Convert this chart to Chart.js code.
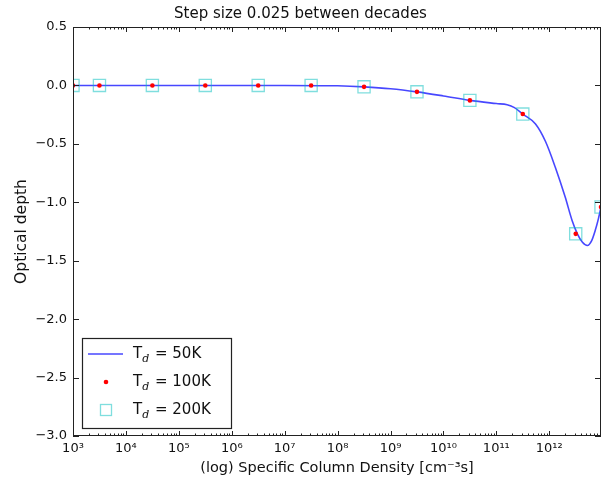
<!DOCTYPE html>
<html>
<head>
<meta charset="utf-8">
<script src="https://cdn.jsdelivr.net/npm/chart.js@4.4.1/dist/chart.umd.min.js"></script>
<style>
  body { margin: 0; background: #fff; }
  canvas { display: block; }
</style>
</head>
<body>
<canvas id="depthChart" width="605" height="485"></canvas>
<script>
// T_d = 50K, drawn as a smooth line
var curveX = [1e3, 1e4, 1e5, 1e6, 1e7, 1e8, 3.16e8, 1e9, 3.16e9, 1e10, 3.16e10,
              1e11, 1.6e11, 2.2e11, 3.16e11, 5.5e11, 8.5e11, 1.3e12, 2e12, 2.7e12,
              3.4e12, 4.2e12, 5.25e12, 6.3e12, 7.4e12, 8.5e12, 9.5e12];
var curveY = [0, 0, 0, 0, 0, -0.003, -0.012, -0.028, -0.055, -0.09, -0.128,
              -0.155, -0.165, -0.19, -0.245, -0.33, -0.48, -0.70, -0.955, -1.155,
              -1.27, -1.34, -1.37, -1.33, -1.24, -1.14, -1.04];

// T_d = 100K (dots) and T_d = 200K (squares), same sample columns
var sampleX = [1e3, 3162, 31623, 316228, 3162278, 31622777, 316227766,
               3.162e9, 3.162e10, 3.162e11, 3.162e12, 9.5e12];
var depth100 = [0, 0, 0, 0, 0, 0, -0.012, -0.055, -0.128, -0.245, -1.27, -1.04];
var depth200 = [0, 0, 0, 0, 0, 0, -0.012, -0.055, -0.128, -0.245, -1.27, -1.04];

var legendTemps = ['50K', '100K', '200K'];

// x axis decade labels
var xTickValues = [1e3, 1e4, 1e5, 1e6, 1e7, 1e8, 1e9, 1e10, 1e11, 1e12];
var xTickLabels = ['10\u00b3', '10\u2074', '10\u2075', '10\u2076', '10\u2077', '10\u2078',
                   '10\u2079', '10\u00b9\u2070', '10\u00b9\u00b9', '10\u00b9\u00b2'];

function toPoints(xs, ys) {
    var pts = [];
    for (var i = 0; i < xs.length; i++) pts.push({x: xs[i], y: ys[i]});
    return pts;
}

var lineColour = 'rgba(0, 0, 255, 0.72)';
var dotColour = '#ff0000';
var squareColour = 'rgba(0, 190, 190, 0.5)';
var frameColour = '#222';

// matplotlib style: ticks pointing inward on all four sides, plus the frame
var insideTicks = {
    id: 'insideTicks',
    afterDatasetsDraw: function(chart) {
        var ctx = chart.ctx, a = chart.chartArea;
        var xs = chart.scales.x, ys = chart.scales.y;
        ctx.save();
        ctx.strokeStyle = frameColour;
        ctx.lineWidth = 1;
        ctx.beginPath();
        xs.ticks.forEach(function(t) {
            var px = Math.round(xs.getPixelForValue(t.value)) + 0.5;
            var len = xTickValues.indexOf(t.value) >= 0 ? 5 : 2.5;
            ctx.moveTo(px, a.bottom); ctx.lineTo(px, a.bottom - len);
            ctx.moveTo(px, a.top); ctx.lineTo(px, a.top + len);
        });
        ys.ticks.forEach(function(t) {
            var py = Math.round(ys.getPixelForValue(t.value)) + 0.5;
            ctx.moveTo(a.left, py); ctx.lineTo(a.left + 6, py);
            ctx.moveTo(a.right, py); ctx.lineTo(a.right - 6, py);
        });
        ctx.stroke();
        ctx.strokeRect(a.left + 0.5, a.top + 0.5, a.right - a.left - 1, a.bottom - a.top - 1);
        ctx.restore();
    }
};

// legend box in the lower left corner of the plot
var cornerLegend = {
    id: 'cornerLegend',
    afterDraw: function(chart) {
        var ctx = chart.ctx, a = chart.chartArea;
        var bx = a.left + 9, bw = 149, bh = 90, by = a.bottom - 8 - bh;
        ctx.save();
        ctx.fillStyle = '#fff';
        ctx.fillRect(bx, by, bw, bh);
        ctx.strokeStyle = frameColour;
        ctx.lineWidth = 1.2;
        ctx.strokeRect(bx + 0.5, by + 0.5, bw, bh);

        var rows = [by + 16, by + 44, by + 72];
        var sampleX = bx + 24;
        chart.data.datasets.forEach(function(ds, i) {
            var y = rows[i];
            if (i === 0) {
                ctx.strokeStyle = lineColour;
                ctx.lineWidth = 1.6;
                ctx.beginPath();
                ctx.moveTo(bx + 6, y); ctx.lineTo(bx + 41, y);
                ctx.stroke();
            } else if (i === 1) {
                ctx.fillStyle = dotColour;
                ctx.beginPath();
                ctx.arc(sampleX, y, 2.3, 0, Math.PI * 2);
                ctx.fill();
            } else {
                ctx.strokeStyle = squareColour;
                ctx.lineWidth = 1.3;
                ctx.strokeRect(sampleX - 5.5, y - 5.5, 11, 11);
            }
            var tx = bx + 51;
            ctx.fillStyle = '#111';
            ctx.textBaseline = 'middle';
            ctx.font = '15px "DejaVu Sans"';
            ctx.fillText('T', tx, y);
            tx += ctx.measureText('T').width;
            ctx.font = 'italic 11px "DejaVu Serif"';
            ctx.fillText('d', tx, y + 5);
            tx += ctx.measureText('d').width + 1;
            ctx.font = '15px "DejaVu Sans"';
            ctx.fillText(' = ' + legendTemps[i], tx, y);
        });
        ctx.restore();
    }
};

var ctx = document.getElementById('depthChart');

var myChart = new Chart(ctx, {
    type: 'scatter',
    data: {
        datasets: [{
            label: 'T_d = ' + legendTemps[0],
            data: toPoints(curveX, curveY),
            showLine: true,
            borderColor: lineColour,
            borderWidth: 1.6,
            pointRadius: 0,
            cubicInterpolationMode: 'monotone',
            clip: 0,
            order: 2
        }, {
            label: 'T_d = ' + legendTemps[1],
            data: toPoints(sampleX, depth100),
            pointStyle: 'circle',
            pointRadius: 2.3,
            pointBackgroundColor: dotColour,
            pointBorderWidth: 0,
            clip: 0,
            order: 1
        }, {
            label: 'T_d = ' + legendTemps[2],
            data: toPoints(sampleX, depth200),
            pointStyle: 'rect',
            pointRadius: 8.6,
            pointBackgroundColor: 'rgba(0,0,0,0)',
            pointBorderColor: squareColour,
            pointBorderWidth: 1.3,
            clip: 0,
            order: 0
        }]
    },
    options: {
        responsive: false,
        animation: false,
        events: [],
        layout: { autoPadding: false, padding: { left: 0, right: 4, top: 0, bottom: 0 } },
        plugins: {
            legend: { display: false },
            tooltip: { enabled: false },
            title: {
                display: true,
                text: 'Step size 0.025 between decades',
                color: '#111',
                font: { family: 'DejaVu Sans', size: 15, weight: 'normal' },
                padding: { top: 5, bottom: 4 }
            }
        },
        scales: {
            x: {
                type: 'logarithmic',
                min: 1e3,
                max: 9.5e12,
                grid: { display: false, drawTicks: false },
                border: { display: false },
                afterBuildTicks: function(scale) {
                    var ticks = [];
                    for (var e = 3; e <= 12; e++) {
                        for (var m = 1; m <= 9; m++) {
                            var v = m * Math.pow(10, e);
                            if (m === 1) v = xTickValues[e - 3];
                            if (v <= scale.max) ticks.push({value: v});
                        }
                    }
                    scale.ticks = ticks;
                },
                afterFit: function(scale) {
                    scale.height = 49;
                    scale.paddingLeft = 0;
                    scale.paddingRight = 0;
                },
                ticks: {
                    autoSkip: false,
                    maxRotation: 0,
                    padding: 5,
                    color: '#111',
                    font: { family: 'DejaVu Sans', size: 13 },
                    callback: function(value) {
                        var i = xTickValues.indexOf(value);
                        return i >= 0 ? xTickLabels[i] : '';
                    }
                },
                title: {
                    display: true,
                    text: '(log) Specific Column Density [cm\u207b\u00b3s]',
                    color: '#111',
                    font: { family: 'DejaVu Sans', size: 14.5 },
                    padding: { top: 0, bottom: 8 }
                }
            },
            y: {
                min: -3,
                max: 0.5,
                grid: { display: false, drawTicks: false },
                border: { display: false },
                afterFit: function(scale) { scale.width = 73; },
                ticks: {
                    stepSize: 0.5,
                    padding: 6,
                    color: '#111',
                    font: { family: 'DejaVu Sans', size: 13 },
                    callback: function(value) {
                        return (value < 0 ? '\u2212' : '') + Math.abs(value).toFixed(1);
                    }
                },
                title: {
                    display: true,
                    text: 'Optical depth',
                    color: '#111',
                    font: { family: 'DejaVu Sans', size: 15.5 },
                    padding: { top: 13, bottom: 0 }
                }
            }
        }
    },
    plugins: [insideTicks, cornerLegend]
});
</script>
</body>
</html>
